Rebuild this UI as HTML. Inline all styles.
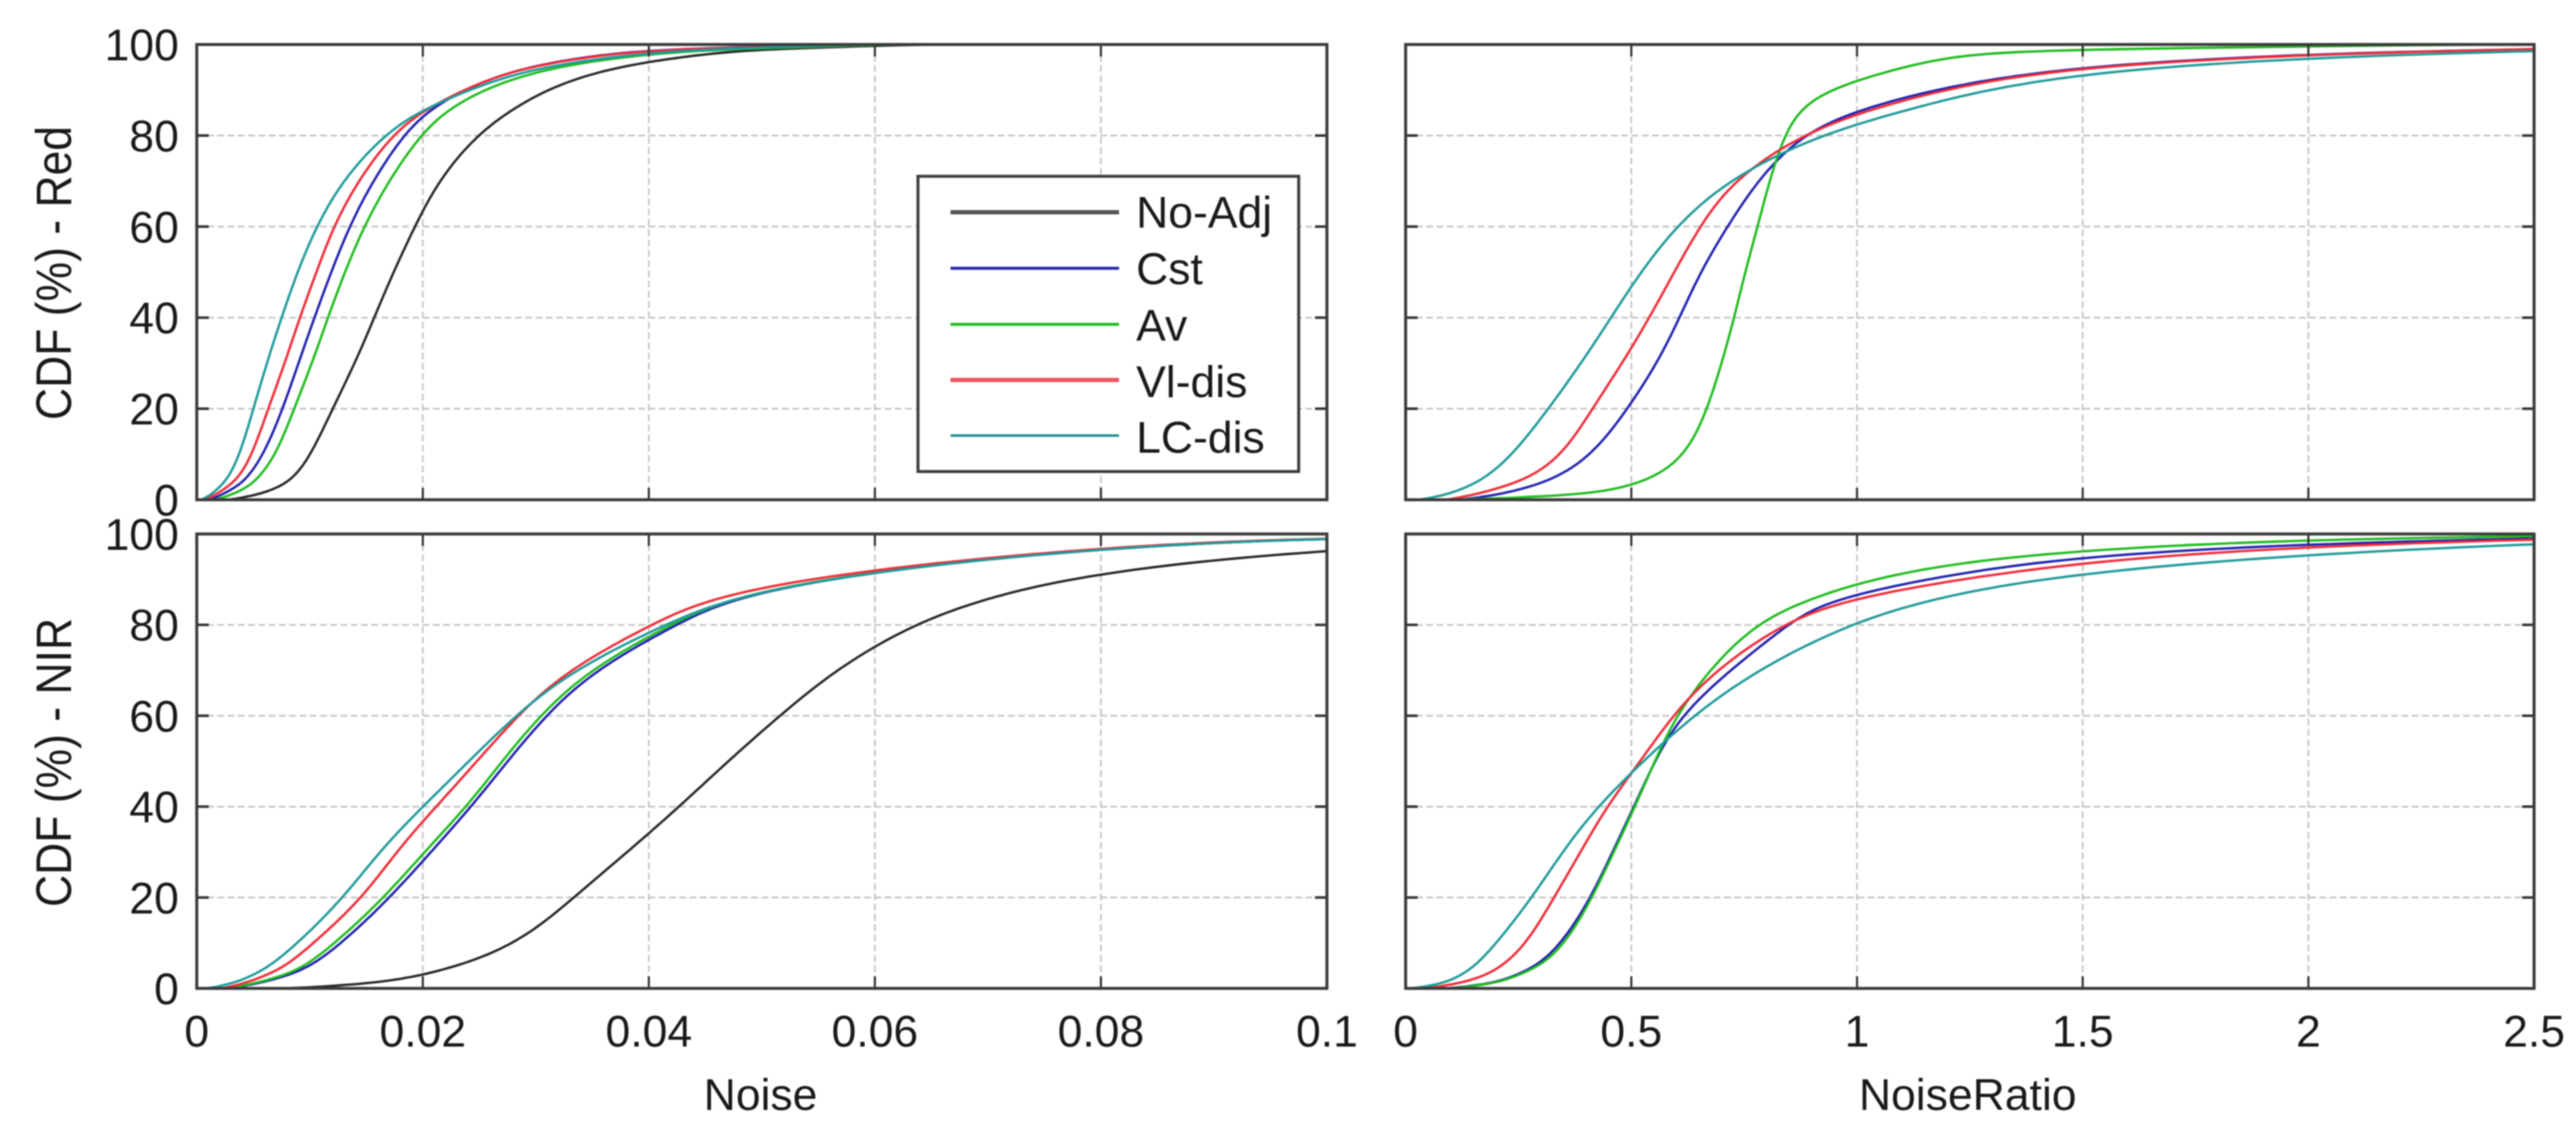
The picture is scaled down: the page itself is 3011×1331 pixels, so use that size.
<!DOCTYPE html>
<html lang="en">
<head>
<meta charset="utf-8">
<title>CDF of Noise and NoiseRatio</title>
<style>
  html, body { margin: 0; padding: 0; background: #fff; }
  body { width: 3011px; height: 1331px; overflow: hidden; }
  svg { display: block; filter: blur(0.8px); }
  text { font-family: "Liberation Sans", Arial, sans-serif; font-size: 52px; fill: #1a1a1a; }
</style>
</head>
<body>
<svg id="figure" xmlns="http://www.w3.org/2000/svg" width="3011" height="1331" viewBox="0 0 3011 1331">
  <rect x="0" y="0" width="3011" height="1331" fill="#fff"/>
  <g id="panels"></g>

  <text text-anchor="middle" transform="translate(83,319) rotate(-90) scale(1,1.12)">CDF (%) - Red</text>
  <text text-anchor="middle" transform="translate(83,891) rotate(-90) scale(1,1.12)">CDF (%) - NIR</text>
  <text x="889" y="1297" text-anchor="middle">Noise</text>
  <text x="2300" y="1297" text-anchor="middle">NoiseRatio</text>

  <g>
    <rect x="1073" y="206" width="445" height="345" fill="#fff" stroke="#3c3c3c" stroke-width="3.5"/>
    <g>
      <line x1="1111" x2="1308" y1="248" y2="248" stroke="#555" stroke-width="5"/>
      <text x="1328" y="266">No-Adj</text>
    </g>
    <g>
      <line x1="1111" x2="1308" y1="313.5" y2="313.5" stroke="#2525ad" stroke-width="3.5"/>
      <text x="1328" y="332">Cst</text>
    </g>
    <g>
      <line x1="1111" x2="1308" y1="379" y2="379" stroke="#22bb22" stroke-width="3.5"/>
      <text x="1328" y="398">Av</text>
    </g>
    <g>
      <line x1="1111" x2="1308" y1="444" y2="444" stroke="#ec5560" stroke-width="5"/>
      <text x="1328" y="464">Vl-dis</text>
    </g>
    <g>
      <line x1="1111" x2="1308" y1="509" y2="509" stroke="#229090" stroke-width="3"/>
      <text x="1328" y="529">LC-dis</text>
    </g>
  </g>
</svg>

<script>
// ---- Chart data: every curve is given as the x value reached at each CDF level ----
const cdfLevels = [0, 1, 3, 5, 10, 20, 30, 40, 50, 60, 70, 80, 85, 90, 95, 98, 99, 100];

const yTickValues = [0, 20, 40, 60, 80, 100];
const yTickLabels = ['0', '20', '40', '60', '80', '100'];
const noiseTickValues = [0, 0.02, 0.04, 0.06, 0.08, 0.1];
const noiseTickLabels = ['0', '0.02', '0.04', '0.06', '0.08', '0.1'];
const ratioTickValues = [0, 0.5, 1, 1.5, 2, 2.5];
const ratioTickLabels = ['0', '0.5', '1', '1.5', '2', '2.5'];

// Red band, Noise (top left)
const redNoiseNoAdj = [.0028,.0053,.0074,.0086,.0101,.0120,.0140,.0157,.0174,.0193,.0214,.0248,.0275,.0309,.0367,.0454,.0502,.0647];
const redNoiseCst   = [.0012,.0021,.0036,.0045,.0059,.0076,.0090,.0104,.0119,.0135,.0156,.0183,.0203,.0236,.0289,.0367,.0420,.0579];
const redNoiseAv    = [.0016,.0030,.0046,.0055,.0070,.0086,.0102,.0116,.0131,.0148,.0170,.0198,.0219,.0253,.0313,.0405,.0468,.0623];
const redNoiseVl    = [.0007,.0016,.0028,.0037,.0049,.0063,.0078,.0091,.0106,.0121,.0143,.0173,.0198,.0236,.0289,.0371,.0425,.0598];
const redNoiseLc    = [.0004,.0012,.0021,.0028,.0038,.0050,.0062,.0075,.0089,.0106,.0129,.0166,.0195,.0241,.0301,.0396,.0454,.0598];
const redNoiseTailEnd = [0.0925];

// Red band, NoiseRatio (top right)
const redRatioCst = [.120,.200,.280,.335,.413,.491,.557,.607,.653,.713,.780,.878,.988,1.166,1.47,2.02,2.50,3.10];
const redRatioAv  = [.110,.390,.490,.550,.620,.668,.700,.728,.752,.780,.806,.840,.870,.933,1.105,1.25,1.51,2.39];
const redRatioVl  = [.090,.148,.220,.275,.347,.413,.480,.540,.595,.652,.726,.878,1.007,1.19,1.48,2.06,2.50,3.10];
const redRatioLc  = [.030,.087,.140,.178,.237,.316,.389,.455,.521,.600,.713,.915,1.09,1.28,1.62,2.25,2.70,3.30];

// NIR band, Noise (bottom left)
const nirNoiseNoAdj = [.0080,.0154,.0200,.0231,.0284,.0333,.0381,.0427,.0470,.0516,.0565,.0634,.0689,.0766,.0920,.1120,.1250,.1500];
const nirNoiseCst   = [.0028,.0053,.0082,.0101,.0128,.0171,.0207,.0243,.0275,.0309,.0352,.0425,.0465,.0555,.0715,.0890,.1000,.1250];
const nirNoiseAv    = [.0026,.0050,.0078,.0096,.0122,.0166,.0201,.0239,.0270,.0304,.0347,.0420,.0462,.0553,.0713,.0888,.1000,.1250];
const nirNoiseVl    = [.0022,.0041,.0062,.0079,.0103,.0147,.0176,.0212,.0248,.0284,.0328,.0403,.0445,.0535,.0705,.0875,.0990,.1230];
const nirNoiseLc    = [.0009,.0031,.0050,.0065,.0089,.0130,.0161,.0200,.0241,.0282,.0333,.0415,.0462,.0555,.0715,.0888,.1000,.1250];

// NIR band, NoiseRatio (bottom right)
const nirRatioCst = [.090,.190,.245,.290,.345,.410,.458,.506,.552,.610,.720,.847,.927,1.153,1.48,2.05,2.50,2.90];
const nirRatioAv  = [.098,.195,.250,.298,.353,.413,.461,.508,.552,.600,.674,.775,.878,1.03,1.31,1.80,2.15,2.80];
const nirRatioVl  = [.040,.117,.178,.214,.268,.328,.388,.445,.521,.591,.688,.836,.957,1.226,1.617,2.20,2.60,3.10];
const nirRatioLc  = [.013,.081,.123,.154,.201,.280,.347,.425,.527,.637,.780,.982,1.141,1.386,1.90,2.55,2.90,3.50];

// ---- Rendering ----
const NS = 'http://www.w3.org/2000/svg';
const seriesStyles = {
  'no-adj': { color: '#262626', width: 2.8 },
  'cst':    { color: '#2020b0', width: 2.8 },
  'av':     { color: '#1fbb1f', width: 2.8 },
  'vl-dis': { color: '#f02c38', width: 2.8 },
  'lc-dis': { color: '#219a9a', width: 2.8 }
};

const panelDefs = [
  { id: 'red-noise', left: 230, right: 1551, top: 52, bottom: 584, xMax: 0.1,
    xTickValues: noiseTickValues, xTickLabels: null, yLabels: true, tailEnd: redNoiseTailEnd[0],
    series: [['no-adj', redNoiseNoAdj], ['cst', redNoiseCst], ['av', redNoiseAv], ['vl-dis', redNoiseVl], ['lc-dis', redNoiseLc]] },
  { id: 'red-ratio', left: 1643, right: 2962, top: 52, bottom: 584, xMax: 2.5,
    xTickValues: ratioTickValues, xTickLabels: null, yLabels: false, tailEnd: null,
    series: [['cst', redRatioCst], ['av', redRatioAv], ['vl-dis', redRatioVl], ['lc-dis', redRatioLc]] },
  { id: 'nir-noise', left: 230, right: 1551, top: 624, bottom: 1155, xMax: 0.1,
    xTickValues: noiseTickValues, xTickLabels: noiseTickLabels, yLabels: true, tailEnd: null,
    series: [['no-adj', nirNoiseNoAdj], ['cst', nirNoiseCst], ['av', nirNoiseAv], ['vl-dis', nirNoiseVl], ['lc-dis', nirNoiseLc]] },
  { id: 'nir-ratio', left: 1643, right: 2962, top: 624, bottom: 1155, xMax: 2.5,
    xTickValues: ratioTickValues, xTickLabels: ratioTickLabels, yLabels: false, tailEnd: null,
    series: [['cst', nirRatioCst], ['av', nirRatioAv], ['vl-dis', nirRatioVl], ['lc-dis', nirRatioLc]] }
];

function svgEl(tag, attrs) {
  const el = document.createElementNS(NS, tag);
  for (const k in attrs) el.setAttribute(k, attrs[k]);
  return el;
}

// Monotone cubic interpolation of x as a function of CDF level (Fritsch-Carlson)
function monotoneSampler(ls, xs) {
  const n = ls.length;
  const d = [], m = new Array(n);
  for (let i = 0; i < n - 1; i++) d.push((xs[i + 1] - xs[i]) / (ls[i + 1] - ls[i]));
  m[0] = d[0];
  m[n - 1] = d[n - 2];
  for (let i = 1; i < n - 1; i++) {
    if (d[i - 1] * d[i] <= 0) m[i] = 0;
    else {
      const h0 = ls[i] - ls[i - 1], h1 = ls[i + 1] - ls[i];
      m[i] = 3 * (h0 + h1) / ((2 * h1 + h0) / d[i - 1] + (h1 + 2 * h0) / d[i]);
    }
  }
  return function (i, t) {
    const h = ls[i + 1] - ls[i];
    const t2 = t * t, t3 = t2 * t;
    return (2 * t3 - 3 * t2 + 1) * xs[i] + (t3 - 2 * t2 + t) * h * m[i] +
           (-2 * t3 + 3 * t2) * xs[i + 1] + (t3 - t2) * h * m[i + 1];
  };
}

// Symmetric moving average over the drawn path to iron out reading jitter
function smoothPath(pts, halfWindow, passes) {
  let cur = pts;
  for (let pass = 0; pass < passes; pass++) {
    const next = [];
    for (let i = 0; i < cur.length; i++) {
      const w = Math.min(halfWindow, i, cur.length - 1 - i);
      let sx = 0, sy = 0;
      for (let k = i - w; k <= i + w; k++) { sx += cur[k][0]; sy += cur[k][1]; }
      next.push([sx / (2 * w + 1), sy / (2 * w + 1)]);
    }
    cur = next;
  }
  return cur;
}

const panelsRoot = document.getElementById('panels');
const figure = document.getElementById('figure');

panelDefs.forEach(function (p) {
  const xScale = function (v) { return p.left + (v / p.xMax) * (p.right - p.left); };
  const yScale = function (v) { return p.bottom - (v / 100) * (p.bottom - p.top); };

  const g = svgEl('g', {});
  
  
  panelsRoot.appendChild(g);

  const clip = svgEl('clipPath', { id: 'clip-' + p.id });
  clip.appendChild(svgEl('rect', { x: p.left, y: p.top - 1, width: p.right - p.left, height: p.bottom - p.top + 2 }));
  g.appendChild(clip);

  const plotBg = svgEl('rect', { x: p.left, y: p.top, width: p.right - p.left, height: p.bottom - p.top, fill: '#fff' });
  
  
  g.appendChild(plotBg);

  // grid lines
  p.xTickValues.slice(1, -1).forEach(function (v) {
    const line = svgEl('line', { x1: xScale(v), x2: xScale(v), y1: p.top, y2: p.bottom, stroke: '#c4c4c4', 'stroke-width': 2, 'stroke-dasharray': '8 4' });
    
    
    g.appendChild(line);
  });
  yTickValues.slice(1, -1).forEach(function (v) {
    const line = svgEl('line', { x1: p.left, x2: p.right, y1: yScale(v), y2: yScale(v), stroke: '#c4c4c4', 'stroke-width': 2, 'stroke-dasharray': '8 4' });
    
    
    g.appendChild(line);
  });

  // curves
  p.series.forEach(function (entry) {
    const key = entry[0], xs = entry[1], style = seriesStyles[key];
    const sample = monotoneSampler(cdfLevels, xs);
    const raw = [];
    for (let i = 0; i < cdfLevels.length - 1; i++) {
      const steps = 16;
      for (let s = 0; s < steps; s++) {
        const t = s / steps;
        const level = cdfLevels[i] + t * (cdfLevels[i + 1] - cdfLevels[i]);
        raw.push([xScale(sample(i, t)), yScale(level)]);
      }
    }
    raw.push([xScale(xs[xs.length - 1]), yScale(100)]);
    const smooth = smoothPath(raw, 9, 2);
    const pts = smooth.map(function (q) { return q[0].toFixed(1) + ',' + q[1].toFixed(1); });
    if (p.tailEnd !== null) pts.push(xScale(p.tailEnd).toFixed(1) + ',' + yScale(100).toFixed(1));
    const path = svgEl('polyline', { points: pts.join(' '), fill: 'none', stroke: style.color, 'stroke-width': style.width, 'stroke-linejoin': 'round', 'clip-path': 'url(#clip-' + p.id + ')' });
    
    
    g.appendChild(path);
  });

  // ticks
  p.xTickValues.slice(1, -1).forEach(function (v) {
    [[p.bottom, p.bottom - 14], [p.top, p.top + 14]].forEach(function (seg) {
      const tick = svgEl('line', { x1: xScale(v), x2: xScale(v), y1: seg[0], y2: seg[1], stroke: '#333', 'stroke-width': 2.5 });
      
      
      g.appendChild(tick);
    });
  });
  yTickValues.slice(1, -1).forEach(function (v) {
    [[p.left, p.left + 14], [p.right, p.right - 14]].forEach(function (seg) {
      const tick = svgEl('line', { x1: seg[0], x2: seg[1], y1: yScale(v), y2: yScale(v), stroke: '#333', 'stroke-width': 3 });
      
      
      g.appendChild(tick);
    });
  });

  // frame
  const frame = svgEl('rect', { x: p.left, y: p.top, width: p.right - p.left, height: p.bottom - p.top, fill: 'none', stroke: '#3a3a3a', 'stroke-width': 3.5 });
  
  
  g.appendChild(frame);

  // tick labels
  if (p.yLabels) {
    yTickValues.forEach(function (v, i) {
      const label = svgEl('text', { x: 209, y: yScale(v) + 18.5, 'text-anchor': 'end' });
      label.textContent = yTickLabels[i];
      
      
      figure.appendChild(label);
    });
  }
  if (p.xTickLabels) {
    p.xTickValues.forEach(function (v, i) {
      const label = svgEl('text', { x: xScale(v), y: 1223, 'text-anchor': 'middle' });
      label.textContent = p.xTickLabels[i];
      
      
      figure.appendChild(label);
    });
  }
});
</script>
</body>
</html>
